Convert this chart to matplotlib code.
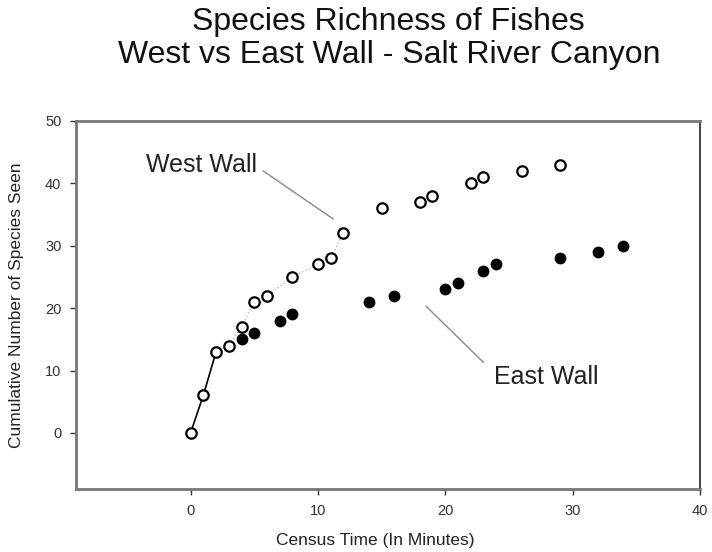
import matplotlib
matplotlib.use("Agg")
import matplotlib.pyplot as plt

plt.rcParams['font.family'] = ['Liberation Sans', 'DejaVu Sans']

west_time = [0, 1, 2, 3, 4, 5, 6, 8, 10, 11, 12, 15, 18, 19, 22, 23, 26, 29]
west_species = [0, 6, 13, 14, 17, 21, 22, 25, 27, 28, 32, 36, 37, 38, 40, 41, 42, 43]
east_time = [4, 5, 7, 8, 14, 16, 20, 21, 23, 24, 29, 32, 34]
east_species = [15, 16, 18, 19, 21, 22, 23, 24, 26, 27, 28, 29, 30]
x_ticks = [0, 10, 20, 30, 40]
y_ticks = [0, 10, 20, 30, 40, 50]

fig = plt.figure(figsize=(7.12, 5.52), dpi=100)
ax = fig.add_axes([0.1067, 0.1141, 0.8763, 0.6667])

# connecting lines
ax.plot(west_time[:3], west_species[:3], color='black', lw=1.2, zorder=1)
ax.plot(west_time[2:11], west_species[2:11], color='#bbbbbb', lw=1.0, ls=':', zorder=1)

ax.plot(west_time, west_species, ls='none', marker='o', ms=7.5,
        mfc='white', mec='black', mew=1.6, zorder=3)
ax.plot(east_time, east_species, ls='none', marker='o', ms=7.5,
        mfc='black', mec='black', zorder=3)

# annotations
ax.plot([5.7, 11.2], [42.0, 34.3], color='#888888', lw=1.0)
ax.plot([18.5, 23.0], [20.3, 11.3], color='#888888', lw=1.0)
ax.text(5.2, 41.9, 'West Wall', fontsize=18, ha='right', va='baseline', color='#222222')
ax.text(23.8, 7.9, 'East Wall', fontsize=18, ha='left', va='baseline', color='#222222')

ax.set_xlim(-9, 40)
ax.set_ylim(-9, 50)
ax.set_xticks(x_ticks)
ax.set_yticks(y_ticks)
ax.tick_params(direction='out', length=4.5, width=1, colors='#333333', labelsize=10.5, pad=6)
for name, s in ax.spines.items():
    if name == 'right':
        s.set_color('#222222')
        s.set_linewidth(1.2)
    else:
        s.set_color('#777777')
        s.set_linewidth(2)

ax.set_xlabel('Census Time (In Minutes)', fontsize=12.5, color='#222222')
ax.xaxis.label.set_va('center')
ax.xaxis.set_label_coords(0.48, -0.1386)
ax.set_ylabel('Cumulative Number of Species Seen', fontsize=12.5, color='#222222')
ax.yaxis.label.set_va('center')
ax.yaxis.set_label_coords(-0.096, 0.5)

fig.text(0.546, 1 - 30 / 552, 'Species Richness of Fishes',
         ha='center', va='baseline', fontsize=23, color='#111111')
fig.text(0.546, 1 - 63 / 552, 'West vs East Wall - Salt River Canyon',
         ha='center', va='baseline', fontsize=23, color='#111111')

fig.savefig('out.png', dpi=100)
